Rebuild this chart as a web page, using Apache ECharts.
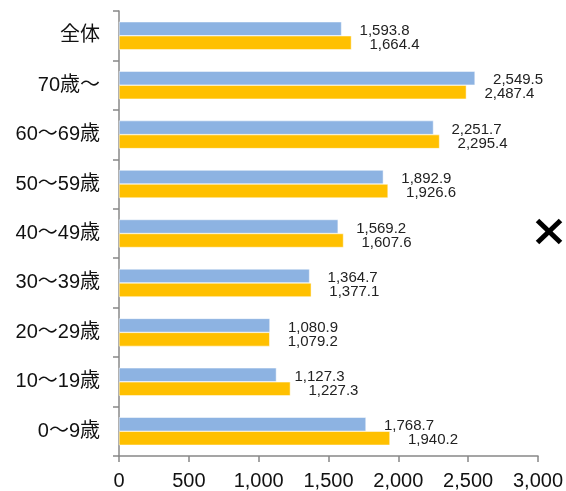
<!DOCTYPE html>
<html>
<head>
<meta charset="utf-8">
<script src="https://cdn.jsdelivr.net/npm/echarts@6/dist/echarts.min.js"></script>
<style>
  html, body { margin: 0; padding: 0; background: #fff; }
  #chart { width: 566px; height: 491px; }
</style>
</head>
<body>
<div id="chart"></div>
<script>
// categories bottom -> top
var categories = ['0～9歳', '10～19歳', '20～29歳', '30～39歳', '40～49歳', '50～59歳', '60～69歳', '70歳～', '全体'];
var blueValues = [1768.7, 1127.3, 1080.9, 1364.7, 1569.2, 1892.9, 2251.7, 2549.5, 1593.8];
var orangeValues = [1940.2, 1227.3, 1079.2, 1377.1, 1607.6, 1926.6, 2295.4, 2487.4, 1664.4];
var xTicks = [0, 500, 1000, 1500, 2000, 2500, 3000];

var FONT = '"Liberation Sans", Arial, "Noto Sans CJK JP", sans-serif';

function fmt(v) {
    return v.toLocaleString('en-US', { minimumFractionDigits: 1, maximumFractionDigits: 1 });
}

var myChart = echarts.init(document.getElementById('chart'), null, { renderer: 'canvas' });

var label = {
    show: true,
    position: 'right',
    distance: 18,
    offset: [0, 2],
    fontFamily: FONT,
    fontSize: 15,
    color: '#222',
    formatter: function (p) { return fmt(p.value); }
};

myChart.setOption({
    animation: false,
    grid: { left: 119, right: 25, top: 11, bottom: 35, containLabel: false },
    xAxis: {
        type: 'value',
        min: xTicks[0],
        max: xTicks[xTicks.length - 1],
        interval: 500,
        splitLine: { show: false },
        axisLine: { show: true, lineStyle: { color: '#888', width: 1.5 } },
        axisTick: { show: true, length: 6, lineStyle: { color: '#888', width: 1.5 } },
        axisLabel: {
            fontFamily: FONT, fontSize: 20, color: '#111', margin: 15,
            formatter: function (v) { return v.toLocaleString('en-US'); }
        }
    },
    yAxis: {
        type: 'category',
        data: categories,
        axisLine: { show: true, lineStyle: { color: '#888', width: 1.5 } },
        axisTick: { show: true, length: 6, lineStyle: { color: '#888', width: 1.5 } },
        axisLabel: { fontFamily: FONT, fontSize: 20, color: '#111', margin: 19 }
    },
    series: [
        {
            name: 'blue',
            type: 'bar',
            data: blueValues,
            barWidth: 14,
            barGap: '0%',
            itemStyle: { color: '#8DB3E2', borderColor: '#fff', borderWidth: 0.5 },
            label: label
        },
        {
            name: 'orange',
            type: 'bar',
            data: orangeValues,
            barWidth: 14,
            barGap: '0%',
            itemStyle: { color: '#FFC000', borderColor: '#fff', borderWidth: 0.5 },
            label: label
        }
    ],
    graphic: [
        { type: 'line', shape: { x1: 537.5, y1: 220.5, x2: 560.5, y2: 242.5 }, style: { stroke: '#000', lineWidth: 5 } },
        { type: 'line', shape: { x1: 560.5, y1: 220.5, x2: 537.5, y2: 242.5 }, style: { stroke: '#000', lineWidth: 5 } }
    ]
});
</script>
</body>
</html>
